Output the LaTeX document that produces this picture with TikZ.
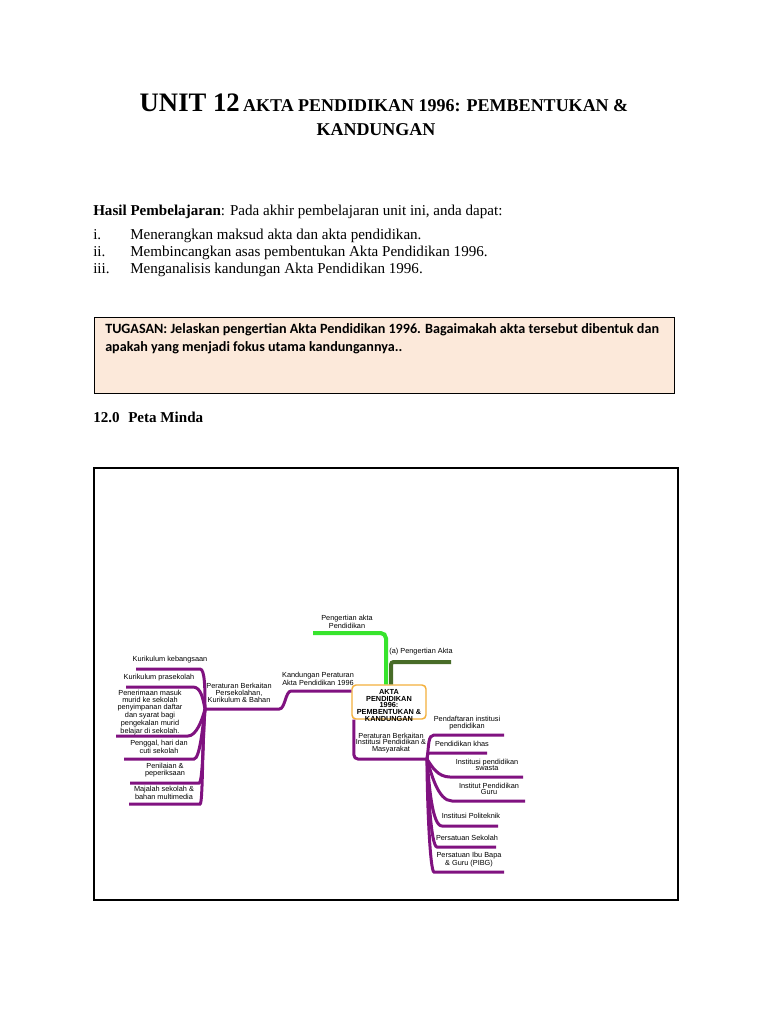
\documentclass[tikz,border=0pt]{standalone}
\usepackage{fontspec}
\setmainfont{Liberation Serif}
\newfontfamily\mapfont{Liberation Sans}
\newfontfamily\boxfont{Carlito}
\usetikzlibrary{calc, positioning}
\definecolor{mapviolet}{RGB}{128,18,128}
\definecolor{limegreen}{RGB}{55,228,45}
\definecolor{olivegreen}{RGB}{72,108,40}
\definecolor{aktaorange}{RGB}{244,176,60}
\definecolor{peach}{RGB}{252,233,218}

\begin{document}
\begin{tikzpicture}[x=0.75pt, y=-0.75pt,
  body/.style={font=\fontsize{11.3}{13}\selectfont, anchor=base west, inner sep=0pt},
  leaf/.style={font=\mapfont\fontsize{5.5}{5}\selectfont, align=center, inner sep=0pt},
  branch/.style={mapviolet, line width=2.25pt},
  limeline/.style={limegreen, line width=3pt, rounded corners=4pt},
  oliveline/.style={olivegreen, line width=3pt, rounded corners=2pt}
]
\fill[white] (0,0) rectangle (768,1024);
\useasboundingbox (0,0) rectangle (768,1024);

% heading and learning outcomes
\node[anchor=base, inner sep=0pt, font=\bfseries] (title1) at (384,112)
  {{\fontsize{20}{22}\selectfont UNIT 12} {\fontsize{13.5}{16}\selectfont AKTA PENDIDIKAN 1996: PEMBENTUKAN \&}};
\node[anchor=base, inner sep=0pt, font=\bfseries\fontsize{13.5}{16}\selectfont] (title2) at (376,135) {KANDUNGAN};
\node[body] (hasil) at (93,215) {\textbf{Hasil Pembelajaran}: Pada akhir pembelajaran unit ini, anda dapat:};
\node[body] (num1) at (93,239) {i.};
\node[body] (num2) at (93,256) {ii.};
\node[body] (num3) at (93,273) {iii.};
\node[body] (item1) at (130,239) {Menerangkan maksud akta dan akta pendidikan.};
\node[body] (item2) at (130,256) {Membincangkan asas pembentukan Akta Pendidikan 1996.};
\node[body] (item3) at (130,273) {Menganalisis kandungan Akta Pendidikan 1996.};

% task box
\node[draw=black, line width=0.8pt, fill=peach, anchor=north west, minimum width=435pt,
  minimum height=57pt, inner sep=0pt] (tugasbox) at (94,317) {};
\node[body, font=\boxfont\bfseries\fontsize{10.6}{13}\selectfont] (tugas1) at (105,333)
  {TUGASAN: Jelaskan pengertian Akta Pendidikan 1996. Bagaimakah akta tersebut dibentuk dan};
\node[body, font=\boxfont\bfseries\fontsize{10.6}{13}\selectfont] (tugas2) at (105,351)
  {apakah yang menjadi fokus utama kandungannya..};
\node[body, font=\bfseries\fontsize{11.3}{13}\selectfont] (secnum) at (93,422) {12.0};
\node[body, font=\bfseries\fontsize{11.3}{13}\selectfont] (sectitle) at (128,422) {Peta Minda};

% mind map
\draw[black, line width=1pt] (94,468) rectangle (678,900);
\node[draw=aktaorange, line width=1.1pt, rounded corners=3pt, fill=white, minimum width=55.5pt,
  minimum height=25.5pt, inner sep=0pt] (akta) at (389,702) {};
\node[align=center, inner sep=0pt, font=\mapfont\bfseries\fontsize{5.5}{5.1}\selectfont]
  (aktaLbl) at (389,705.5) {AKTA\\PENDIDIKAN\\1996:\\PEMBENTUKAN \&\\KANDUNGAN};

\coordinate (pgEnd) at (313,633);
\coordinate (paEnd) at (451,662);
\draw[oliveline] (paEnd) -| ([xshift=1.5pt]akta.north);
\draw[limeline] (pgEnd) -| ([xshift=-2.25pt]akta.north);
\node[leaf] (pengertian) at (347,622) {Pengertian akta\\Pendidikan};
\node[leaf] (pengAkta) at (421,652) {(a) Pengertian Akta};

% left side
\coordinate (hubL) at (205,709);
\draw[branch] ([yshift=8.25pt]akta.west) -- ++(-60,0) .. controls +(-6,0) and +(6,0) .. ++(-12,18) -- (hubL);
\node[leaf] (kandungan) at (318,679) {Kandungan Peraturan\\Akta Pendidikan 1996};
\node[leaf] (sekolahan) at (239,693) {Peraturan Berkaitan\\Persekolahan,\\Kurikulum \& Bahan};

\coordinate (kbEnd) at (136,669);
\coordinate (kpEnd) at (126,687);
\coordinate (pmEnd) at (116,736);
\coordinate (pgnEnd) at (124,759);
\coordinate (pnEnd) at (130,783);
\coordinate (mjEnd) at (129,804);
\draw[branch] (kbEnd) -- ++(64,0) .. controls +(5,0) and +(0,-20) .. (hubL);
\draw[branch] (kpEnd) -- ++(67,0) .. controls +(8,0) and +(-2,-10) .. (hubL);
\draw[branch] (pmEnd) -- ++(72,0) .. controls +(8,0) and +(-3,12) .. (hubL);
\draw[branch] (pgnEnd) -- ++(70,0) .. controls +(6,0) and +(-2,15) .. (hubL);
\draw[branch] (pnEnd) -- ++(69,0) .. controls +(4,0) and +(-2,25) .. (hubL);
\draw[branch] (mjEnd) -- ++(71,0) .. controls +(3,0) and +(-3,35) .. (hubL);
\node[leaf] (kebangsaan) at (170,660) {Kurikulum kebangsaan};
\node[leaf] (prasekolah) at (159,678) {Kurikulum prasekolah};
\node[leaf] (penerimaan) at (150,713) {Penerimaan masuk\\murid ke sekolah\\penyimpanan daftar\\dan syarat bagi\\pengekalan murid\\belajar di sekolah.};
\node[leaf] (penggal) at (159,747) {Penggal, hari dan\\cuti sekolah};
\node[leaf] (penilaian) at (165,770) {Penilaian \&\\peperiksaan};
\node[leaf] (majalah) at (164,793) {Majalah sekolah \&\\bahan multimedia};

% right side
\coordinate (hubR) at (427,759);
\draw[branch, rounded corners=3pt] ([xshift=2pt]akta.south west) |- (hubR);
\node[leaf] (institusi) at (391,743) {Peraturan Berkaitan\\Institusi Pendidikan \&\\Masyarakat};

\coordinate (pfEnd) at (504,735);
\coordinate (pkEnd) at (487,753);
\coordinate (swEnd) at (523,777);
\coordinate (igEnd) at (525,801);
\coordinate (ptEnd) at (498,826);
\coordinate (psEnd) at (496,847);
\coordinate (pibgEnd) at (504,872);
\draw[branch] (pfEnd) -- ++(-70,0) .. controls +(-6,0) and +(2,-14) .. (hubR);
\draw[branch] (pkEnd) -- ++(-58,0) .. controls +(-2,0) and +(1,-4) .. (hubR);
\draw[branch] (swEnd) -- ++(-73,0) .. controls +(-12,0) and +(5,8) .. (hubR);
\draw[branch] (igEnd) -- ++(-73,0) .. controls +(-14,0) and +(4,14) .. (hubR);
\draw[branch] (ptEnd) -- ++(-56,0) .. controls +(-10,0) and +(2,25) .. (hubR);
\draw[branch] (psEnd) -- ++(-59,0) .. controls +(-6,0) and +(1,30) .. (hubR);
\draw[branch] (pibgEnd) -- ++(-70,0) .. controls +(-4,0) and +(0,40) .. (hubR);
\node[leaf] (pendaftaran) at (467,723) {Pendaftaran institusi\\pendidikan};
\node[leaf] (khas) at (462,744) {Pendidikan khas};
\node[leaf] (swasta) at (487,765) {Institusi pendidikan\\swasta};
\node[leaf] (guru) at (489,789) {Institut Pendidikan\\Guru};
\node[leaf] (politeknik) at (471,816) {Institusi Politeknik};
\node[leaf] (persatuan) at (467,838) {Persatuan Sekolah};
\node[leaf] (pibg) at (469,860) {Persatuan Ibu Bapa\\\& Guru (PIBG)};
\end{tikzpicture}
\end{document}
